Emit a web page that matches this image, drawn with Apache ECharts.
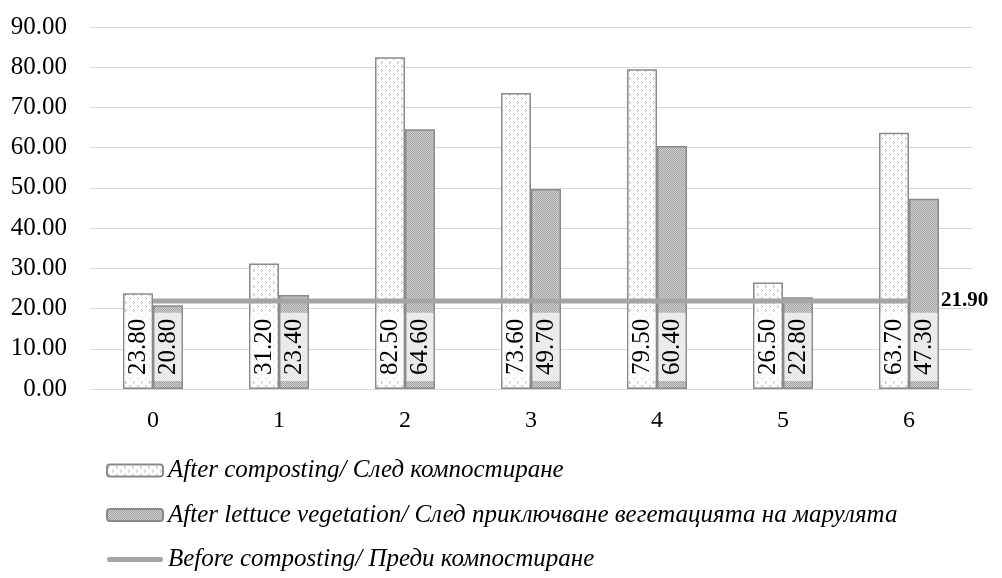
<!DOCTYPE html>
<html>
<head>
<meta charset="utf-8">
<script src="https://cdn.jsdelivr.net/npm/echarts@6/dist/echarts.min.js"></script>
<style>
  html, body { margin: 0; padding: 0; background: #fff; }
  #chart { width: 1002px; height: 578px; }
</style>
</head>
<body>
<div id="chart"></div>
<script>
// Sample groups on the x axis
const categories = ['0', '1', '2', '3', '4', '5', '6'];
// Values after composting
const afterComposting = [23.8, 31.2, 82.5, 73.6, 79.5, 26.5, 63.7];
// Values after the lettuce vegetation period
const afterLettuce = [20.8, 23.4, 64.6, 49.7, 60.4, 22.8, 47.3];
// Initial level before composting (same for every group)
const beforeComposting = [21.9, 21.9, 21.9, 21.9, 21.9, 21.9, 21.9];

const seriesNames = [
  'After composting/ След компостиране',
  'After lettuce vegetation/ След приключване вегетацията на марулята',
  'Before composting/ Преди компостиране'
];

const FONT = '"Liberation Serif", "Times New Roman", serif';

// Light dotted fill
function dottedPattern() {
  const c = document.createElement('canvas');
  c.width = 8; c.height = 8;
  const g = c.getContext('2d');
  g.fillStyle = '#ffffff';
  g.fillRect(0, 0, 8, 8);
  g.fillStyle = '#b8b8b8';
  g.fillRect(1, 1, 1, 1); g.fillRect(2, 2, 1, 1); g.fillRect(1, 3, 1, 1);
  g.fillRect(5, 5, 1, 1); g.fillRect(6, 6, 1, 1); g.fillRect(5, 7, 1, 1);
  return c;
}
// Dense grey checker fill
function checkerPattern() {
  const c = document.createElement('canvas');
  c.width = 2; c.height = 2;
  const g = c.getContext('2d');
  g.fillStyle = '#d2d2d2';
  g.fillRect(0, 0, 2, 2);
  g.fillStyle = '#a2a2a2';
  g.fillRect(0, 0, 1, 1); g.fillRect(1, 1, 1, 1);
  return c;
}

const valueLabel = {
  show: true,
  position: 'insideBottom',
  rotate: 90,
  align: 'left',
  verticalAlign: 'middle',
  distance: 8,
  fontFamily: FONT,
  fontSize: 25,
  color: '#000',
  backgroundColor: 'rgba(255,255,255,0.7)',
  padding: [1, 6, 1, 6],
  formatter: p => p.value.toFixed(2)
};

const chart = echarts.init(document.getElementById('chart'));
chart.setOption({
  animation: false,
  grid: { left: 90, right: 30, top: 27, bottom: 189 },
  legend: {
    orient: 'vertical',
    left: 101,
    top: 453,
    itemWidth: 56,
    itemHeight: 12,
    itemGap: 19.5,
    itemTextGap: 3,
    textStyle: { fontFamily: FONT, fontSize: 25, fontStyle: 'italic', color: '#000' },
    data: [
      seriesNames[0],
      seriesNames[1],
      {
        name: seriesNames[2],
        icon: 'path://M2.5,0 L53.5,0 A2.5,2.5 0 0 1 53.5,5 L2.5,5 A2.5,2.5 0 0 1 2.5,0 Z',
        itemStyle: { color: '#a5a5a5' }
      }
    ]
  },
  xAxis: {
    type: 'category',
    data: categories,
    axisLine: { lineStyle: { color: '#d9d9d9', width: 1 } },
    axisTick: { show: false },
    axisLabel: { fontFamily: FONT, fontSize: 24, color: '#000', margin: 20 }
  },
  yAxis: {
    type: 'value',
    min: 0, max: 90, interval: 10,
    axisLine: { show: false },
    axisTick: { show: false },
    splitLine: { lineStyle: { color: '#d9d9d9', width: 1 } },
    axisLabel: { fontFamily: FONT, fontSize: 25, color: '#000', margin: 23, formatter: v => v.toFixed(2) }
  },
  series: [
    {
      name: seriesNames[0],
      type: 'bar',
      data: afterComposting,
      barWidth: 30,
      barGap: '0%',
      itemStyle: { color: { image: dottedPattern(), repetition: 'repeat' }, borderColor: '#8a8a8a', borderWidth: 1.5 },
      label: valueLabel
    },
    {
      name: seriesNames[1],
      type: 'bar',
      data: afterLettuce,
      barWidth: 30,
      itemStyle: { color: { image: checkerPattern(), repetition: 'repeat' }, borderColor: '#8a8a8a', borderWidth: 1.5 },
      label: valueLabel
    },
    {
      name: seriesNames[2],
      type: 'line',
      data: beforeComposting,
      symbol: 'none',
      z: 5,
      lineStyle: { color: '#a5a5a5', width: 5 },
      itemStyle: { color: '#a5a5a5' },
      endLabel: {
        show: true,
        distance: 32,
        fontFamily: FONT,
        fontSize: 21,
        fontWeight: 'bold',
        color: '#000',
        formatter: p => p.value.toFixed(2)
      }
    }
  ]
});
</script>
</body>
</html>
